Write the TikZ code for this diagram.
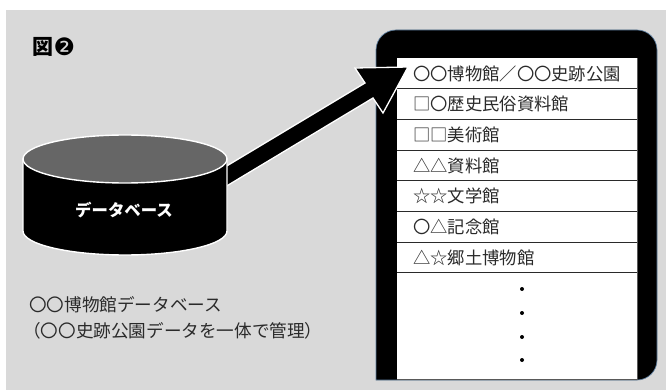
\documentclass[tikz,border=0pt]{standalone}
\usepackage{fontspec}
\newfontfamily\jp{Noto Sans CJK JP}
\newfontfamily\dv{DejaVu Sans}
\definecolor{bg}{HTML}{D9D9D9}
\definecolor{edge}{HTML}{5F7F9F}
\definecolor{txt}{HTML}{2A2A2A}
\definecolor{topc}{HTML}{666666}
\tikzset{
  rowtext/.style={anchor=west,inner sep=0pt,font=\jp\fontsize{17.3}{19}\selectfont,text=txt},
  rowline/.style={draw=txt,line width=0.9pt},
  dotmark/.style={circle,fill=black,inner sep=0pt,minimum size=4pt},
  captext/.style={anchor=west,inner sep=0pt,font=\jp\fontsize{17.6}{19}\selectfont,text=txt},
}
\begin{document}
\begin{tikzpicture}[x=1pt,y=-1pt]
\useasboundingbox (0,0) rectangle (666,390);
\fill[white] (0,0) rectangle (666,390);
\fill[bg] (6,10) rectangle (666,390);
% title
\node[anchor=west,inner sep=0pt,font=\jp\bfseries\fontsize{21}{22}\selectfont] (title) at (32,47) {図};
\node[anchor=west,inner sep=0pt,font=\dv\fontsize{24}{24}\selectfont] (num) at (title.east) {❷};
% phone
\draw[edge,line width=0.7pt,fill=black,rounded corners=20pt] (376,380) -- (376,30) -- (657,30) -- (657,380) [sharp corners] -- cycle;
% list
\fill[white] (397,58) rectangle (637,379);
\draw[gray!70!black,line width=1pt] (637,58) -- (637,379.5) -- (397,379.5);
\foreach \i/\t in {0/〇〇博物館／〇〇史跡公園,1/□〇歴史民俗資料館,2/□□美術館,3/△△資料館,4/☆☆文学館,5/〇△記念館,6/△☆郷土博物館}{
  \node[rowtext] (r\i) at (413,{58+30.67*\i+15.5}) {\t};
}
\foreach \i in {1,...,7}{
  \draw[rowline] (397,{58+30.67*\i}) -- (637,{58+30.67*\i});
}
\foreach \y/\n in {289/d1,313/d2,337/d3,360/d4}{
  \node[dotmark] (\n) at (522,\y) {};
}
% arrow
\coordinate (as1) at (200,182);
\coordinate (as2) at (200,202);
\coordinate (tip) at (408,67);
\draw[white,line width=1.3pt,fill=black,line join=miter]
  (as1) -- (365,83) -- (355,68) -- (tip) -- (383,113) -- (373,98) -- (as2) -- cycle;
% database cylinder
\draw[white,line width=1.4pt,fill=black] (23,159) -- (23,231) arc[start angle=180,end angle=0,x radius=102,y radius=24] -- (227,159) -- cycle;
\draw[white,line width=1.4pt,fill=topc] (125,159) ellipse[x radius=102,y radius=24];
\node[inner sep=0pt,text=white,font=\jp\bfseries\fontsize{16.4}{18}\selectfont] (db) at (124,210) {データベース};
% caption
\node[captext] (c1) at (29,305) {〇〇博物館データベース};
\node[captext] (c2) at (23,331) {（〇〇史跡公園データを一体で管理）};
\end{tikzpicture}
\end{document}
